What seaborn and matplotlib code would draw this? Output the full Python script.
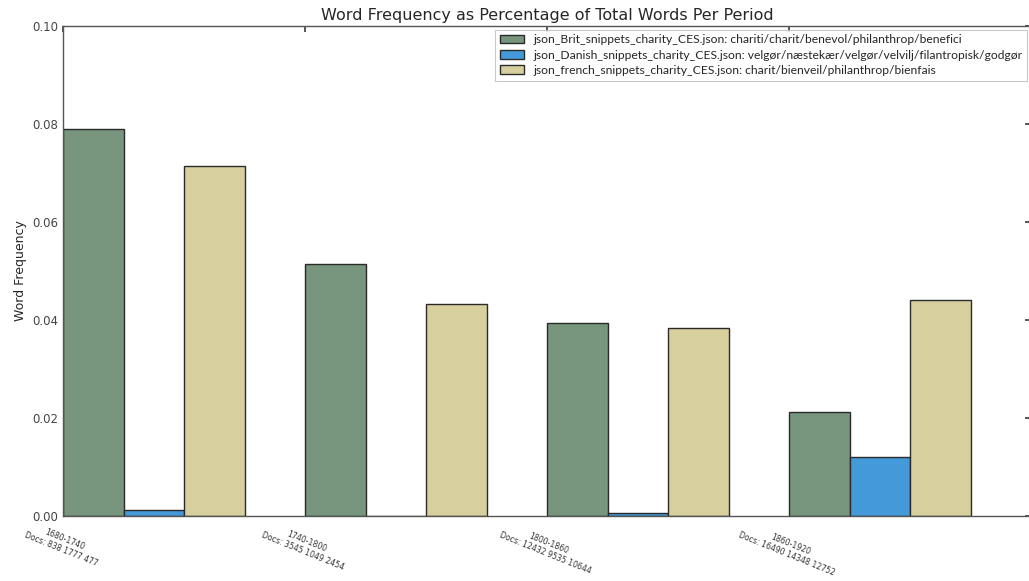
import matplotlib
matplotlib.use("Agg")
import matplotlib.pyplot as plt
import seaborn as sns
import pandas as pd

periods = ["1680-1740", "1740-1800", "1800-1860", "1860-1920"]
doc_counts = ["838 1777 477", "3545 1049 2454", "12432 9535 10644", "16490 14348 12752"]
series_names = [
    "json_Brit_snippets_charity_CES.json: chariti/charit/benevol/philanthrop/benefici",
    "json_Danish_snippets_charity_CES.json: velgør/næstekær/velgør/velvilj/filantropisk/godgør",
    "json_french_snippets_charity_CES.json: charit/bienveil/philanthrop/bienfais",
]
brit_values = [0.0790, 0.0514, 0.0394, 0.0212]
danish_values = [0.0012, 0.0, 0.0006, 0.0120]
french_values = [0.0714, 0.0433, 0.0384, 0.0441]
colors = ["#77967d", "#449ad8", "#d7d09e"]

rows = []
for name, vals in zip(series_names, [brit_values, danish_values, french_values]):
    for p, v in zip(periods, vals):
        rows.append({"period": p, "series": name, "freq": v})
df = pd.DataFrame(rows)

sns.set_theme(style="white")
plt.rcParams["font.family"] = ["DejaVu Sans"]
plt.rcParams.update({
    "xtick.direction": "in", "ytick.direction": "in",
    "xtick.top": True, "ytick.right": True,
    "xtick.major.size": 4, "ytick.major.size": 4,
    "xtick.color": "#444444", "ytick.color": "#444444",
})

fig = plt.figure(figsize=(10.29, 5.81), dpi=100)
ax = fig.add_axes([63 / 1029, 1 - 516 / 581, (1031 - 63) / 1029, (516 - 26) / 581])

sns.barplot(data=df, x="period", y="freq", hue="series", hue_order=series_names,
            palette=colors, width=0.75, gap=0, dodge=True, ax=ax,
            edgecolor="#2a2a2a", linewidth=1.0, saturation=1)

ax.set_xlim(-0.375, 3.625)
ax.set_ylim(0, 0.10)
ax.set_yticks([0.0, 0.02, 0.04, 0.06, 0.08, 0.10])
ax.set_yticklabels(["0.00", "0.02", "0.04", "0.06", "0.08", "0.10"], fontsize=8.5)
ax.set_xticks([i - 0.375 for i in range(len(periods))])
ax.set_xticklabels([f"{p}\nDocs: {d}" for p, d in zip(periods, doc_counts)],
                   rotation=-22, ha="center", fontsize=5.6, color="#333333")
ax.set_xlabel("")
ax.set_ylabel("Word Frequency", fontsize=9)
ax.set_title("Word Frequency as Percentage of Total Words Per Period", fontsize=11.5, pad=4)

for s in ax.spines.values():
    s.set_color("#555555")
    s.set_linewidth(1.0)

leg = ax.legend(loc="upper right", frameon=True, borderaxespad=0.3,
                prop={"family": "Lato", "size": 8.7},
                bbox_to_anchor=(1.0, 1.0),
                handlelength=2.0, labelspacing=0.35, fancybox=False)
leg.get_frame().set_edgecolor("#bbbbbb")
leg.get_frame().set_linewidth(0.8)

fig.savefig("out.png", dpi=100)
